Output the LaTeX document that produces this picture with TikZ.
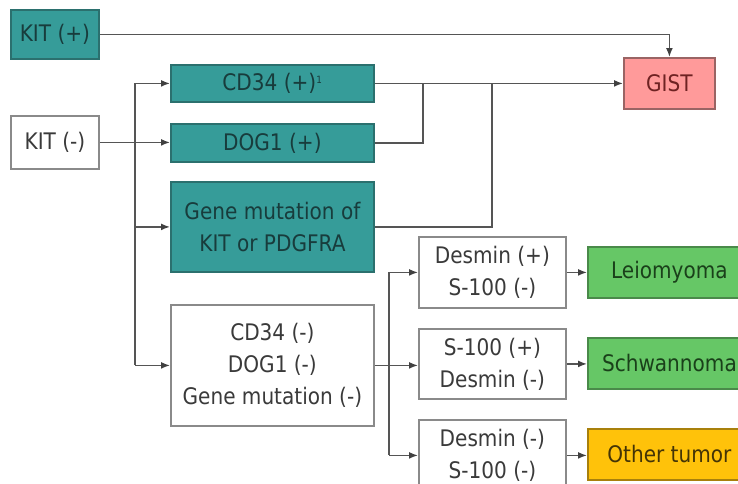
\documentclass[tikz,border=0pt]{standalone}
\usepackage{fontspec}
\setmainfont{DejaVu Sans}[FakeStretch=0.88]
\usepackage{xcolor}
\definecolor{Teal}{HTML}{369C99}
\definecolor{TealDark}{HTML}{2B706E}
\definecolor{TealText}{HTML}{183C3C}
\definecolor{Rose}{HTML}{FF9A9A}
\definecolor{RoseDark}{HTML}{9A6464}
\definecolor{RoseText}{HTML}{6E2222}
\definecolor{Leaf}{HTML}{66C766}
\definecolor{LeafDark}{HTML}{4A8A4A}
\definecolor{LeafText}{HTML}{1A401A}
\definecolor{Amber}{HTML}{FFC20A}
\definecolor{AmberDark}{HTML}{A8800C}
\definecolor{AmberText}{HTML}{443406}
\definecolor{Frame}{HTML}{8A8A8A}
\definecolor{Ink}{HTML}{3A3A3A}
\definecolor{Wire}{HTML}{555555}
\colorlet{teal}{Teal}
\colorlet{rose}{Rose}
\colorlet{leaf}{Leaf}
\colorlet{amber}{Amber}
\usepackage{tikz}
\usetikzlibrary{arrows.meta,positioning}

\begin{document}
\begin{tikzpicture}[x=1pt,y=-1pt,every node/.style={font=\fontsize{22.8}{32}\selectfont,align=center,inner sep=0pt,anchor=north west,line width=1.8pt},
  posbox/.style={draw=TealDark,fill=teal,text=TealText},
  negbox/.style={draw=Frame,fill=white,text=Ink},
  wire/.style={draw=Wire,line width=1.6pt},
  arr/.style={wire,-{Latex[length=9pt,width=7pt,color=black!75]}}]
\clip (0,0) rectangle (738,483);
\fill[white] (0,0) rectangle (738,483);
% left column
\node[posbox,minimum width=88pt,minimum height=49pt] (kitp) at (10,9) {KIT (+)};
\node[negbox,minimum width=88pt,minimum height=53pt] (kitn) at (10,115) {KIT (-)};
% markers
\node[posbox,minimum width=203pt,minimum height=37pt] (cd34) at (170,64) {CD34 (+)\textsuperscript{\fontsize{10}{10}\selectfont 1}};
\node[posbox,minimum width=203pt,minimum height=38pt] (dog1) at (170,123) {DOG1 (+)};
\node[posbox,minimum width=203pt,minimum height=90pt] (gene) at (170,181) {Gene mutation of\\KIT or PDGFRA};
\node[negbox,minimum width=203pt,minimum height=121pt] (none) at (170,304) {CD34 (-)\\DOG1 (-)\\Gene mutation (-)};
\node[draw=RoseDark,fill=rose,text=RoseText,minimum width=91pt,minimum height=51pt] (gist) at (623,57) {GIST};
% second stage
\node[negbox,minimum width=147pt,minimum height=71pt] (des) at (418,236) {Desmin (+)\\S-100 (-)};
\node[negbox,minimum width=147pt,minimum height=70pt] (s100) at (418,328) {S-100 (+)\\Desmin (-)};
\node[negbox,minimum width=147pt,minimum height=71pt] (both) at (418,419) {Desmin (-)\\S-100 (-)};
\node[draw=LeafDark,fill=leaf,text=LeafText,minimum width=163pt,minimum height=51pt] (leio) at (587,246) {Leiomyoma};
\node[draw=LeafDark,fill=leaf,text=LeafText,minimum width=163pt,minimum height=51pt] (schw) at (587,337) {Schwannoma};
\node[draw=AmberDark,fill=amber,text=AmberText,minimum width=163pt,minimum height=51pt] (other) at (587,428) {Other tumor};
% junctions
\coordinate (t1) at (135,0);\coordinate (j1) at (423,0);\coordinate (j2) at (492,0);\coordinate (t2) at (389,0);
% connectors
\draw[arr] (kitp.east) -| (gist.north);
\draw[arr] (kitn.east) -- (kitn.east -| dog1.west);
\draw[wire] (cd34.west -| t1) -- (none.west -| t1);
\draw[arr] (cd34.west -| t1) -- (cd34.west);\draw[arr] (gene.west -| t1) -- (gene.west);\draw[arr] (none.west -| t1) -- (none.west);
\draw[arr] (cd34.east) -- (cd34.east -| gist.west);
\draw[wire] (dog1.east) -| (cd34.east -| j1);\draw[wire] (gene.east) -| (cd34.east -| j2);
\draw[wire] (des.west -| t2) -- (both.west -| t2);
\draw[arr] (none.east) -- (none.east -| s100.west);
\draw[arr] (des.west -| t2) -- (des.west);\draw[arr] (both.west -| t2) -- (both.west);
\draw[arr] (des.east) -- (des.east -| leio.west);\draw[arr] (s100.east) -- (s100.east -| schw.west);\draw[arr] (both.east) -- (both.east -| other.west);
\end{tikzpicture}
\end{document}
